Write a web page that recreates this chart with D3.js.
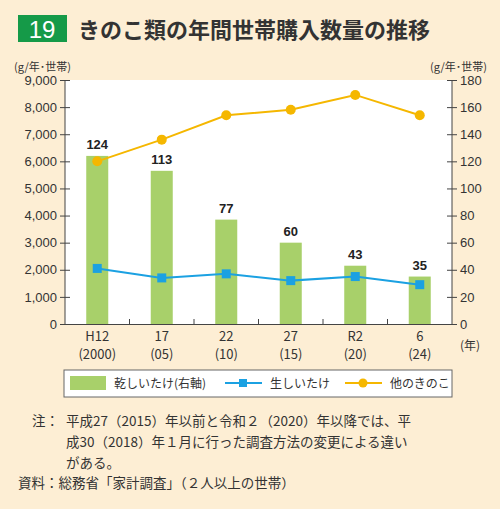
<!DOCTYPE html>
<html><head><meta charset="utf-8">
<script src="https://cdn.jsdelivr.net/npm/d3@7"></script>
<style>body{margin:0;background:#fdeed4;font-family:"Noto Sans CJK JP",sans-serif}</style>
</head><body><svg width="500" height="509"></svg>
<script>
var categories = ["H12", "17", "22", "27", "R2", "6"];
var subLabels = ["(2000)", "(05)", "(10)", "(15)", "(20)", "(24)"];
var dried = [124, 113, 77, 60, 43, 35];
var fresh = [2050, 1700, 1850, 1600, 1750, 1450];
var others = [6000, 6800, 7700, 7900, 8450, 7700];
var leftTicks = d3.range(0, 9001, 1000);
var rightTicks = d3.range(0, 181, 20);

var svg = d3.select("svg");
var F = "Noto Sans CJK JP";
var L = 65, R = 452, T = 80, B = 324;

svg.append("rect").attr("width", 500).attr("height", 509).attr("fill", "#fdeed4");
svg.append("rect").attr("x", 18).attr("y", 15).attr("width", 49).attr("height", 27).attr("fill", "#159a48");
svg.append("text").attr("x", 42).attr("y", 38).attr("text-anchor", "middle").attr("fill", "#fff")
  .attr("font-size", 24).attr("font-family", "Liberation Sans").text("19");
svg.append("text").attr("x", 78).attr("y", 38).attr("font-size", 22).attr("font-weight", "bold")
  .attr("fill", "#333").attr("font-family", F).text("きのこ類の年間世帯購入数量の推移");

svg.append("rect").attr("x", L).attr("y", T).attr("width", R - L).attr("height", B - T).attr("fill", "#fff");

var x = d3.scaleBand().domain(categories).range([L, R]);
var yL = d3.scaleLinear().domain([0, 9000]).range([B, T]);
var yR = d3.scaleLinear().domain([0, 180]).range([B, T]);

svg.selectAll(".bar").data(dried).enter().append("rect")
  .attr("x", (d, i) => x(categories[i]) + x.bandwidth() / 2 - 11)
  .attr("y", d => yR(d)).attr("width", 22).attr("height", d => B - yR(d)).attr("fill", "#a8d06a");
svg.selectAll(".bl").data(dried).enter().append("text")
  .attr("x", (d, i) => x(categories[i]) + x.bandwidth() / 2).attr("y", d => yR(d) - 7)
  .attr("text-anchor", "middle").attr("font-size", 13).attr("font-weight", "bold").attr("fill", "#222")
  .attr("font-family", "Liberation Sans").text(d => d);

function line(data, color, shape) {
  var g = d3.line().x((d, i) => x(categories[i]) + x.bandwidth() / 2).y(d => yL(d));
  svg.append("path").attr("d", g(data)).attr("fill", "none").attr("stroke", color).attr("stroke-width", 2);
  data.forEach(function (d, i) {
    var cx = x(categories[i]) + x.bandwidth() / 2, cy = yL(d);
    if (shape == "sq") svg.append("rect").attr("x", cx - 4.5).attr("y", cy - 4.5).attr("width", 9).attr("height", 9).attr("fill", color);
    else svg.append("circle").attr("cx", cx).attr("cy", cy).attr("r", 5).attr("fill", color);
  });
}
line(fresh, "#1ba1e2", "sq");
line(others, "#f5b700", "c");

var ax = svg.append("g").attr("transform", "translate(" + L + ",0)")
  .call(d3.axisLeft(yL).tickValues(leftTicks).tickSize(5).tickFormat(d3.format(",")));
var ax2 = svg.append("g").attr("transform", "translate(" + R + ",0)")
  .call(d3.axisRight(yR).tickValues(rightTicks).tickSize(5));
var ax3 = svg.append("g").attr("transform", "translate(0," + B + ")")
  .call(d3.axisBottom(x).tickValues([]).tickSizeOuter(0));
[ax, ax2].forEach(a => a.selectAll("text").attr("font-size", 13).attr("font-family", "Liberation Sans").attr("fill", "#333"));
[ax, ax2, ax3].forEach(a => a.selectAll("path,line").attr("stroke", "#444"));
ax.selectAll(".tick line").attr("x2", 5).attr("x1", -5);
ax2.selectAll(".tick line").attr("x1", -5);
ax.select(".domain").attr("d", "M0," + T + "V" + B);
ax2.select(".domain").attr("d", "M0," + T + "V" + B);
x.domain().slice(1).forEach(c => svg.append("line").attr("x1", x(c)).attr("x2", x(c)).attr("y1", B).attr("y2", B - 5).attr("stroke", "#444"));

categories.forEach(function (c, i) {
  var cx = x(c) + x.bandwidth() / 2;
  svg.append("text").attr("x", cx).attr("y", 341).attr("text-anchor", "middle").attr("font-size", 13).attr("fill", "#333").attr("font-family", F).text(c);
  svg.append("text").attr("x", cx).attr("y", 359).attr("text-anchor", "middle").attr("font-size", 13).attr("fill", "#333").attr("font-family", F).text(subLabels[i]);
});
svg.append("text").attr("x", 460).attr("y", 350).attr("font-size", 12).attr("fill", "#333").attr("font-family", F).text("(年)");
svg.append("text").attr("x", 14).attr("y", 71).attr("font-size", 11).attr("fill", "#333").attr("font-family", F).text("(g/年･世帯)");
svg.append("text").attr("x", 430).attr("y", 71).attr("font-size", 11).attr("fill", "#333").attr("font-family", F).text("(g/年･世帯)");

svg.append("rect").attr("x", 64).attr("y", 370).attr("width", 388).attr("height", 27).attr("fill", "#fff").attr("stroke", "#666");
svg.append("rect").attr("x", 70).attr("y", 376).attr("width", 36).attr("height", 14).attr("fill", "#a8d06a");
svg.append("text").attr("x", 114).attr("y", 388).attr("font-size", 12).attr("fill", "#333").attr("font-family", F).text("乾しいたけ(右軸)");
svg.append("line").attr("x1", 225).attr("x2", 262).attr("y1", 383).attr("y2", 383).attr("stroke", "#1ba1e2").attr("stroke-width", 2);
svg.append("rect").attr("x", 239).attr("y", 379).attr("width", 8).attr("height", 8).attr("fill", "#1ba1e2");
svg.append("text").attr("x", 270).attr("y", 388).attr("font-size", 12).attr("fill", "#333").attr("font-family", F).text("生しいたけ");
svg.append("line").attr("x1", 345).attr("x2", 382).attr("y1", 383).attr("y2", 383).attr("stroke", "#f5b700").attr("stroke-width", 2);
svg.append("circle").attr("cx", 363).attr("cy", 383).attr("r", 4.5).attr("fill", "#f5b700");
svg.append("text").attr("x", 390).attr("y", 388).attr("font-size", 12).attr("fill", "#333").attr("font-family", F).text("他のきのこ");

var notes = [[32, 426, "注："], [66, 426, "平成27（2015）年以前と令和２（2020）年以降では、平"], [66, 447, "成30（2018）年１月に行った調査方法の変更による違い"], [66, 468, "がある。"], [18, 488, "資料：総務省「家計調査」（２人以上の世帯）"]];
notes.forEach(n => svg.append("text").attr("x", n[0]).attr("y", n[1]).attr("font-size", 13.5).attr("fill", "#333").attr("font-family", F).text(n[2]));
</script></body></html>
